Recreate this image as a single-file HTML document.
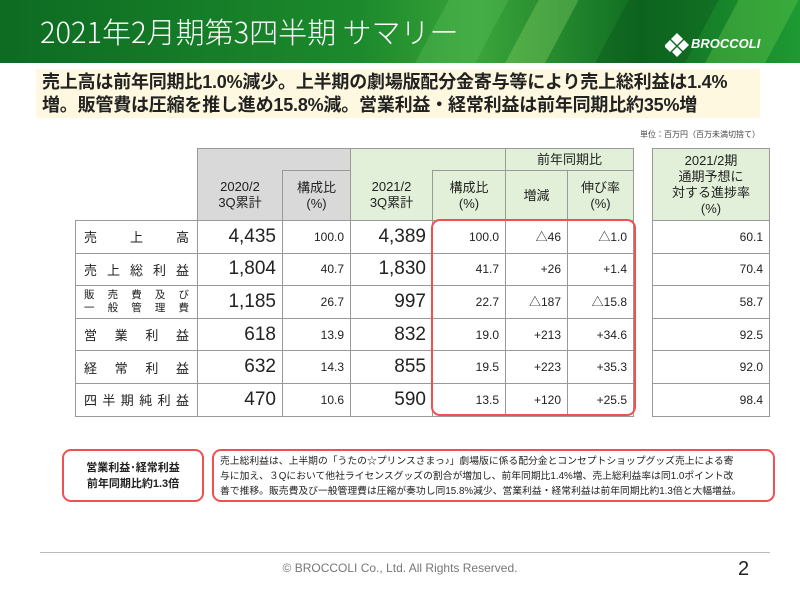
<!DOCTYPE html>
<html><head><meta charset="utf-8">
<style>
*{margin:0;padding:0;box-sizing:border-box}
body{width:800px;height:600px;position:relative;background:#fff;font-family:"Liberation Sans","Noto Sans CJK JP",sans-serif;overflow:hidden;color:#222}
.hdr{position:absolute;left:0;top:0;width:800px;height:63px;background:linear-gradient(90deg,#0d6b22 0%,#1c8a2c 45%,#3aa43a 60%,#0f6d22 80%,#1e9a33 100%);overflow:hidden}
.stripe{position:absolute;top:-10px;height:90px;transform:skewX(-28deg);opacity:.35}
.title{position:absolute;left:40px;top:10px;color:#fff;font-size:29px;font-family:"Noto Sans CJK JP","Liberation Sans",sans-serif;font-weight:300}
.logo{position:absolute;left:665px;top:33px;width:110px;height:26px}
.logo span{position:absolute;left:26px;top:3px;color:#fff;font-weight:bold;font-style:italic;font-size:13px}
.lead{position:absolute;left:36px;top:69px;width:724px;height:49px;background:#fdf8df;padding:2px 6px;font-weight:bold;font-size:18px;line-height:23px;color:#222;letter-spacing:-0.2px}
.unit{position:absolute;left:640px;top:129px;font-size:8px;color:#444}
table{position:absolute;border-collapse:collapse;font-size:12px}
td{border:1.5px solid #999;text-align:right;padding:0 6px}
.g{background:#d9d9d9;text-align:center;font-size:13px;line-height:16px}
.gr{background:#e2f0d9;text-align:center;font-size:13px;line-height:16px}
.big{font-size:19px}
.lab{text-align:justify;text-align-last:justify;padding:0 8px;font-size:13px}
.red{position:absolute;border:2.5px solid #f05050;border-radius:9px}
.note{position:absolute;font-size:10px;line-height:15px}
</style></head><body>
<div class="hdr">
 <div class="stripe" style="left:430px;width:60px;background:#5cc05c"></div>
 <div class="stripe" style="left:520px;width:40px;background:#8bd46a"></div>
 <div class="stripe" style="left:610px;width:90px;background:#0a4f18"></div>
 <div class="stripe" style="left:720px;width:60px;background:#6ccf4f"></div>
 <div class="title">2021年2月期第3四半期 サマリー</div>
 <div class="logo">
  <svg width="24" height="24" viewBox="0 0 24 24" style="position:absolute;left:0;top:0"><g fill="#fff"><polygon points="12,0 18,6 12,12 6,6"/><polygon points="5,7 11,13 5,19 -1,13"/><polygon points="13,13 19,7 24,12 18,18"/><polygon points="12,14 17,19 12,24 7,19"/></g></svg>
  <span>BROCCOLI</span></div>
</div>
<div class="lead">売上高は前年同期比1.0%減少。上半期の劇場版配分金寄与等により売上総利益は1.4%<br>増。販管費は圧縮を推し進め15.8%減。営業利益・経常利益は前年同期比約35%増</div>
<div class="unit">単位：百万円（百万未満切捨て）</div>

<table style="left:75px;top:148px">
<colgroup><col style="width:122px"><col style="width:85px"><col style="width:68px"><col style="width:82px"><col style="width:73px"><col style="width:62px"><col style="width:66px"></colgroup>
<tr style="height:22px"><td style="border:none;border-bottom:1.5px solid #999" rowspan="2"></td><td class="g" colspan="2" style="border-bottom:none"></td><td class="gr" colspan="2" style="border-bottom:none"></td><td class="gr" colspan="2">前年同期比</td></tr>
<tr style="height:50px"><td class="g" style="border-top:none">2020/2<br>3Q累計</td><td class="g">構成比<br>(%)</td><td class="gr" style="border-top:none">2021/2<br>3Q累計</td><td class="gr">構成比<br>(%)</td><td class="gr">増減</td><td class="gr">伸び率<br>(%)</td></tr>
<tbody id="rows"></tbody>
</table>

<table style="left:652px;top:148px">
<colgroup><col style="width:117px"></colgroup>
<tr style="height:72px"><td class="gr">2021/2期<br>通期予想に<br>対する進捗率<br>(%)</td></tr>
<tbody id="rows2"></tbody>
</table>

<div class="red" style="left:431px;top:219px;width:205px;height:197px"></div>

<div class="red" style="left:62px;top:449px;width:142px;height:53px;display:flex;align-items:center;justify-content:center;text-align:center;font-weight:bold;font-size:11px;line-height:16px">営業利益･経常利益<br>前年同期比約1.3倍</div>
<div class="red" style="left:212px;top:449px;width:563px;height:53px"></div>
<div class="note" style="left:220px;top:454px;width:552px;font-size:9.8px">売上総利益は、上半期の「うたの☆プリンスさまっ♪」劇場版に係る配分金とコンセプトショップグッズ売上による寄<br>与に加え、３Qにおいて他社ライセンスグッズの割合が増加し、前年同期比1.4%増、売上総利益率は同1.0ポイント改<br>善で推移。販売費及び一般管理費は圧縮が奏功し同15.8%減少、営業利益・経常利益は前年同期比約1.3倍と大幅増益。</div>

<div style="position:absolute;left:40px;top:552px;width:730px;height:1px;background:#bbb"></div>
<div style="position:absolute;left:0;top:561px;width:800px;text-align:center;font-size:12px;color:#777">© BROCCOLI Co., Ltd. All Rights Reserved.</div>
<div style="position:absolute;left:738px;top:558px;font-size:20px;color:#222">2</div>

<script>
const labels=["売上高","売上総利益","販売費及び<br>一般管理費","営業利益","経常利益","四半期純利益"];
const prev=["4,435","1,804","1,185","618","632","470"];
const prevRatio=["100.0","40.7","26.7","13.9","14.3","10.6"];
const cur=["4,389","1,830","997","832","855","590"];
const curRatio=["100.0","41.7","22.7","19.0","19.5","13.5"];
const diff=["△46","+26","△187","+213","+223","+120"];
const growth=["△1.0","+1.4","△15.8","+34.6","+35.3","+25.5"];
const progress=["60.1","70.4","58.7","92.5","92.0","98.4"];
const tb=document.getElementById('rows'),tb2=document.getElementById('rows2');
const names=["net-sales","gross-profit","sga","operating-income","ordinary-income","net-income"];
labels.forEach((l,i)=>{
 const tr=document.createElement('tr');tr.style.height='32.6px';
 
 
 const sm=i==2?'font-size:10.5px;line-height:13px':'';
 const txt=i==2?l.split('<br>').map(s=>`<div style="text-align-last:justify">${s}</div>`).join(''):l;
 tr.innerHTML=`<td class="lab" style="${sm}">${txt}</td><td class="big">${prev[i]}</td><td>${prevRatio[i]}</td><td class="big">${cur[i]}</td><td>${curRatio[i]}</td><td>${diff[i]}</td><td>${growth[i]}</td>`;
 tb.appendChild(tr);
 const t2=document.createElement('tr');t2.style.height='32.6px';
 
 
 t2.innerHTML=`<td>${progress[i]}</td>`;
 tb2.appendChild(t2);
});
</script>
</body></html>
